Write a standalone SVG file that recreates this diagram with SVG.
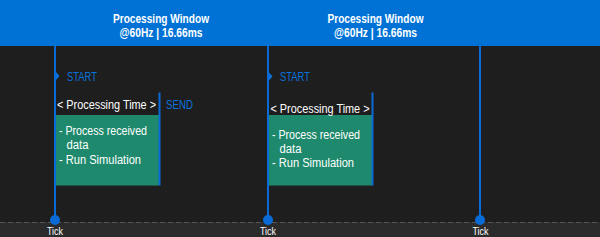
<svg xmlns="http://www.w3.org/2000/svg" width="600" height="237" viewBox="0 0 600 237">
<style>
text{font-family:"Liberation Sans","Noto Sans",sans-serif;font-size:12px}
.w{fill:#ffffff}
.t{fill:#ffffff;font-weight:bold;text-anchor:middle}
.b{fill:#0a72dc}
.vl{stroke:#0a6ad6;stroke-width:2;fill:none}
.g{fill:#1e896c}
</style>
<rect x="0" y="0" width="600" height="237" fill="#1e1e1e"/>
<rect x="0" y="222" width="600" height="15" fill="#2b2b2b"/>
<line x1="0" y1="222.5" x2="600" y2="222.5" stroke="#555555" stroke-width="1" stroke-dasharray="5,3"/>
<rect x="0" y="0" width="600" height="46" fill="#0072d6"/>
<g id="header1">
<text class="t" x="161" y="23" textLength="96" lengthAdjust="spacingAndGlyphs">Processing Window</text>
<text class="t" x="161" y="37" textLength="83" lengthAdjust="spacingAndGlyphs">@60Hz | 16.66ms</text>
</g>
<g id="header2">
<text class="t" x="375.5" y="23" textLength="96" lengthAdjust="spacingAndGlyphs">Processing Window</text>
<text class="t" x="375.5" y="37" textLength="83" lengthAdjust="spacingAndGlyphs">@60Hz | 16.66ms</text>
</g>
<g id="connectors">
<line class="vl" x1="55" y1="46" x2="55" y2="220"/>
<line class="vl" x1="268" y1="46" x2="268" y2="220"/>
<line class="vl" x1="480" y1="46" x2="480" y2="220"/>
</g>
<g id="block1">
<rect class="g" x="56" y="115" width="103" height="70.5"/>
<line class="vl" x1="159.5" y1="92.5" x2="159.5" y2="185.5"/>
<polygon class="b" points="56,72 59.5,76 56,80"/>
<text class="b" x="67" y="80.5" textLength="30" lengthAdjust="spacingAndGlyphs">START</text>
<text class="w" x="57" y="108.5" textLength="99" lengthAdjust="spacingAndGlyphs">&lt; Processing Time &gt;</text>
<text class="b" x="166" y="108.5" textLength="27" lengthAdjust="spacingAndGlyphs">SEND</text>
<text class="w" x="59" y="135" textLength="88" lengthAdjust="spacingAndGlyphs">- Process received</text>
<text class="w" x="66.5" y="149" textLength="22" lengthAdjust="spacingAndGlyphs">data</text>
<text class="w" x="59" y="163.5" textLength="82" lengthAdjust="spacingAndGlyphs">- Run Simulation</text>
</g>
<g id="block2">
<rect class="g" x="269" y="115" width="103" height="70.5"/>
<line class="vl" x1="372.5" y1="92.5" x2="372.5" y2="185.5"/>
<polygon class="b" points="269,72.5 272.5,76.5 269,80.5"/>
<text class="b" x="280" y="80.5" textLength="30" lengthAdjust="spacingAndGlyphs">START</text>
<text class="w" x="270.5" y="113" textLength="99" lengthAdjust="spacingAndGlyphs">&lt; Processing Time &gt;</text>
<text class="w" x="272" y="138.5" textLength="88" lengthAdjust="spacingAndGlyphs">- Process received</text>
<text class="w" x="279.5" y="152.5" textLength="22" lengthAdjust="spacingAndGlyphs">data</text>
<text class="w" x="272" y="167" textLength="82" lengthAdjust="spacingAndGlyphs">- Run Simulation</text>
</g>
<g id="tick1">
<circle cx="55" cy="220" r="5" fill="#0a6ad6"/>
<text class="w" x="55" y="235" text-anchor="middle" textLength="16" lengthAdjust="spacingAndGlyphs" style="font-size:11px">Tick</text>
</g>
<g id="tick2">
<circle cx="268" cy="220" r="5" fill="#0a6ad6"/>
<text class="w" x="268" y="235" text-anchor="middle" textLength="16" lengthAdjust="spacingAndGlyphs" style="font-size:11px">Tick</text>
</g>
<g id="tick3">
<circle cx="480" cy="220" r="5" fill="#0a6ad6"/>
<text class="w" x="480.5" y="235" text-anchor="middle" textLength="16" lengthAdjust="spacingAndGlyphs" style="font-size:11px">Tick</text>
</g>
</svg>
